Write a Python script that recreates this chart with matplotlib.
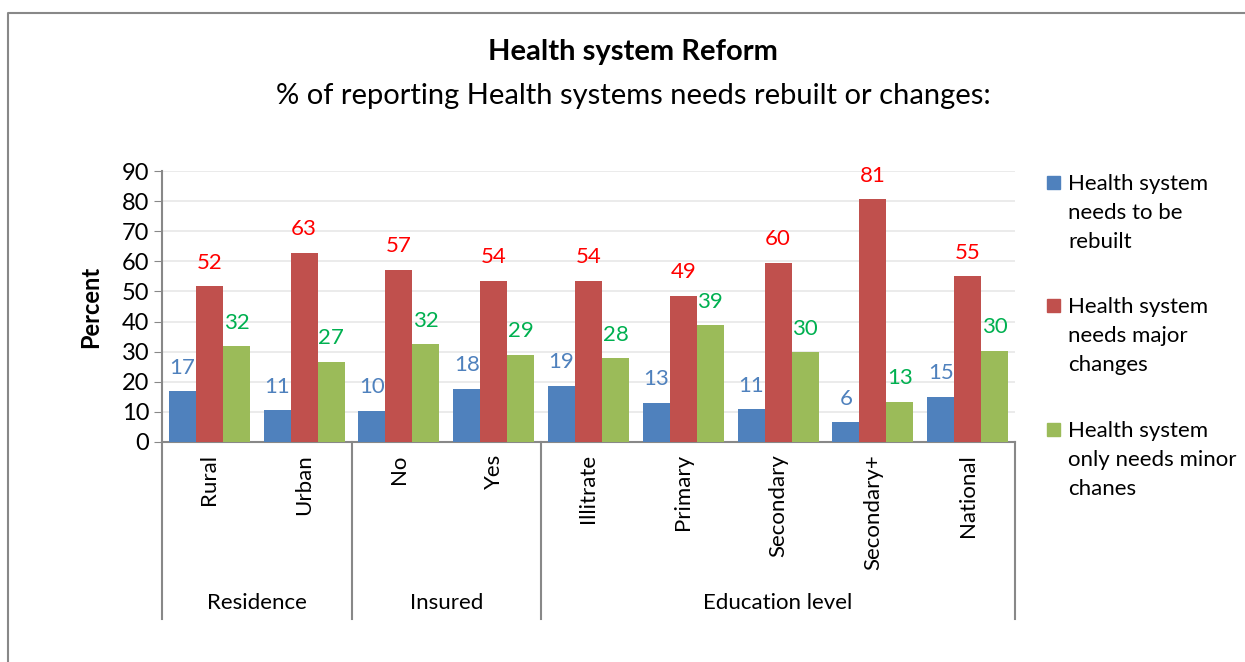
import matplotlib
matplotlib.use("Agg")
import matplotlib.pyplot as plt
from matplotlib.patches import Rectangle
from matplotlib.lines import Line2D
import numpy as np

plt.rcParams['font.family'] = ['Lato', 'DejaVu Sans']

categories = ['Rural', 'Urban', 'No', 'Yes', 'Illitrate', 'Primary',
              'Secondary', 'Secondary+', 'National']
groups = ['Residence', 'Insured', 'Education level']
group_sizes = [2, 2, 5]

rebuilt = [16.8, 10.5, 10.3, 17.7, 18.7, 13.0, 10.9, 6.5, 15.0]
major = [51.7, 62.8, 57.2, 53.6, 53.6, 48.6, 59.6, 80.6, 55.0]
minor = [31.8, 26.7, 32.4, 28.9, 27.8, 38.7, 29.8, 13.3, 30.3]

rebuilt_lbl = [17, 11, 10, 18, 19, 13, 11, 6, 15]
major_lbl = [52, 63, 57, 54, 54, 49, 60, 81, 55]
minor_lbl = [32, 27, 32, 29, 28, 39, 30, 13, 30]

series = ['Health system\nneeds to be\nrebuilt',
          'Health system\nneeds major\nchanges',
          'Health system\nonly needs minor\nchanes']
bar_colors = ['#4F81BD', '#C0504D', '#9BBB59']
label_colors = ['#4F81BD', '#FF0000', '#00B050']

W, H = 1245, 662
fig = plt.figure(figsize=(W / 100, H / 100), dpi=100)
ax = fig.add_axes([162 / W, 1 - 442 / H, (1015 - 162) / W, (442 - 171) / H])

x = np.arange(len(categories))
bw = 0.285
for i, (vals, lbls) in enumerate([(rebuilt, rebuilt_lbl), (major, major_lbl), (minor, minor_lbl)]):
    pos = x + (i - 1) * bw
    ax.bar(pos, vals, bw, color=bar_colors[i], zorder=3)
    for p, v, l in zip(pos, vals, lbls):
        ax.annotate(str(l), (p, v), xytext=(0, 17), textcoords='offset points',
                    ha='center', va='center', fontsize=16, color=label_colors[i])

ax.set_xlim(-0.5, len(categories) - 0.5)
ax.set_ylim(0, 90)
ax.set_yticks(range(0, 91, 10))
ax.tick_params(axis='y', labelsize=17, length=6, color='#888888', pad=3)
ax.yaxis.grid(True, color='#e8e8e8', linewidth=1.2, zorder=0)
ax.set_xticks([])
for s in ['top', 'right']:
    ax.spines[s].set_visible(False)
for s in ['left', 'bottom']:
    ax.spines[s].set_color('#888888')
    ax.spines[s].set_linewidth(1.5)
ax.set_ylabel('Percent', fontsize=17, fontweight='bold', labelpad=14)

# category labels (rotated)
trans = ax.get_xaxis_transform()
for xi, c in zip(x, categories):
    ax.text(xi, -0.045, c, rotation=90, ha='center', va='top', fontsize=16,
            transform=trans)

# group separators and labels
y_bottom = -(619 - 442) / (442 - 171)
bounds = np.concatenate([[0], np.cumsum(group_sizes)]) - 0.5
for b in bounds:
    ax.add_line(Line2D([b, b], [0, y_bottom], transform=trans, color='#888888',
                       linewidth=1.5, clip_on=False))
for g, a, b in zip(groups, bounds[:-1], bounds[1:]):
    ax.text((a + b) / 2, -(603 - 442) / (442 - 171), g, ha='center', va='center',
            fontsize=16, transform=trans)

# titles
fig.text(633 / W, 1 - 52 / H, 'Health system Reform', ha='center', va='center',
         fontsize=21, fontweight='bold')
fig.text(633 / W, 1 - 96 / H, '% of reporting Health systems needs rebuilt or changes:',
         ha='center', va='center', fontsize=21)

# legend
leg_tops = [183, 306, 430]
for i in range(3):
    yc = 1 - leg_tops[i] / H
    fig.patches.append(Rectangle((1047 / W, yc - 6 / H), 13 / W, 13 / H,
                                 transform=fig.transFigure, color=bar_colors[i]))
    fig.text(1068 / W, yc + 9 / H, series[i], ha='left', va='top', fontsize=16,
             linespacing=1.55)

# outer border
fig.add_artist(Line2D([8 / W, 8 / W, 1], [0, 1 - 13 / H, 1 - 13 / H],
                      transform=fig.transFigure, color='#888888', linewidth=1.5))

fig.savefig('out.png', dpi=100)
